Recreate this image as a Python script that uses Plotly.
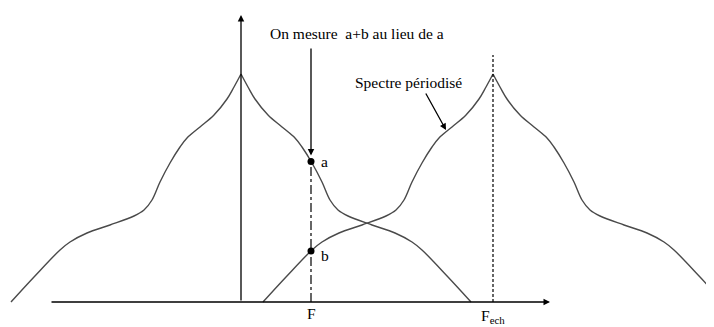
import numpy as np
import plotly.graph_objects as go

# demi-spectre : écart à la fréquence centrale -> amplitude
ecart = [0, 7, 14, 27, 41, 54, 61, 71, 81, 89, 97, 107, 131, 154, 171, 181, 207, 230]
amplitude = [228, 215, 203, 187, 175, 164, 155, 139, 120, 102, 92, 86, 77, 69, 60, 52, 25, 0]

centres = [0, 252]      # 0 et F_ech
F = 70
FECH = 252

d = np.array(ecart, dtype=float)
h = np.array(amplitude, dtype=float)

trait = dict(color="#4a4a4a", width=1.4)
fig = go.Figure()

# chaque spectre : deux moitiés séparées pour garder la pointe
for c in centres:
    for sens in (-1, 1):
        fig.add_trace(go.Scatter(x=c + sens * d, y=h, mode="lines",
                                 line=dict(shape="spline", smoothing=1.0, **trait),
                                 hoverinfo="skip", showlegend=False))

# points a et b sur la verticale F
val_a = float(np.interp(F, d, h))
val_b = float(np.interp(FECH - F, d, h))
fig.add_trace(go.Scatter(x=[F, F], y=[val_a, val_b], mode="markers",
                         marker=dict(color="black", size=7),
                         hoverinfo="skip", showlegend=False))

# verticale mixte sous a, tirets en F_ech
fig.add_shape(type="line", x0=F, x1=F, y0=0, y1=val_a,
              line=dict(color="black", width=1.2, dash="dashdot"))
fig.add_shape(type="line", x0=FECH, x1=FECH, y0=0, y1=247,
              line=dict(color="black", width=1.2, dash="3px,2px"))

fleche = dict(showarrow=True, arrowhead=2, arrowsize=1, arrowwidth=1.3,
              arrowcolor="black", axref="x", ayref="y", text="")
# axes
fig.add_annotation(x=309, y=0, ax=-191, ay=0, **fleche)
fig.add_annotation(x=0, y=287, ax=0, ay=0, **fleche)
# fleche de mesure et fleche du spectre
fig.add_annotation(x=F, y=val_a + 6, ax=F, ay=255, **fleche)
fig.add_annotation(x=205, y=172, ax=184, ay=210, **fleche)

police = dict(family="Liberation Serif", size=15.5, color="black")
fig.add_annotation(x=27, y=269, text="On mesure  a+b au lieu de a", showarrow=False,
                   xanchor="left", font=police)
fig.add_annotation(x=112, y=220, text="Spectre périodisé", showarrow=False,
                   xanchor="left", font=police)
fig.add_annotation(x=F + 8, y=val_a, text="a", showarrow=False, xanchor="left", font=police)
fig.add_annotation(x=F + 8, y=val_b - 4, text="b", showarrow=False, xanchor="left", font=police)
fig.add_annotation(x=F, y=-11, text="F", showarrow=False, font=police)
fig.add_annotation(x=FECH, y=-14, text="F<sub>ech</sub>", showarrow=False, font=police)

# la page garde une marge de 8 px : la figure est réduite d'autant
fig.update_layout(
    width=706, height=319,
    margin=dict(l=0, r=0, t=0, b=0),
    paper_bgcolor="white", plot_bgcolor="white",
    xaxis=dict(range=[-233, 473], visible=False, fixedrange=True),
    yaxis=dict(range=[-25, 294], visible=False, fixedrange=True),
)

fig.write_html("out.html")
